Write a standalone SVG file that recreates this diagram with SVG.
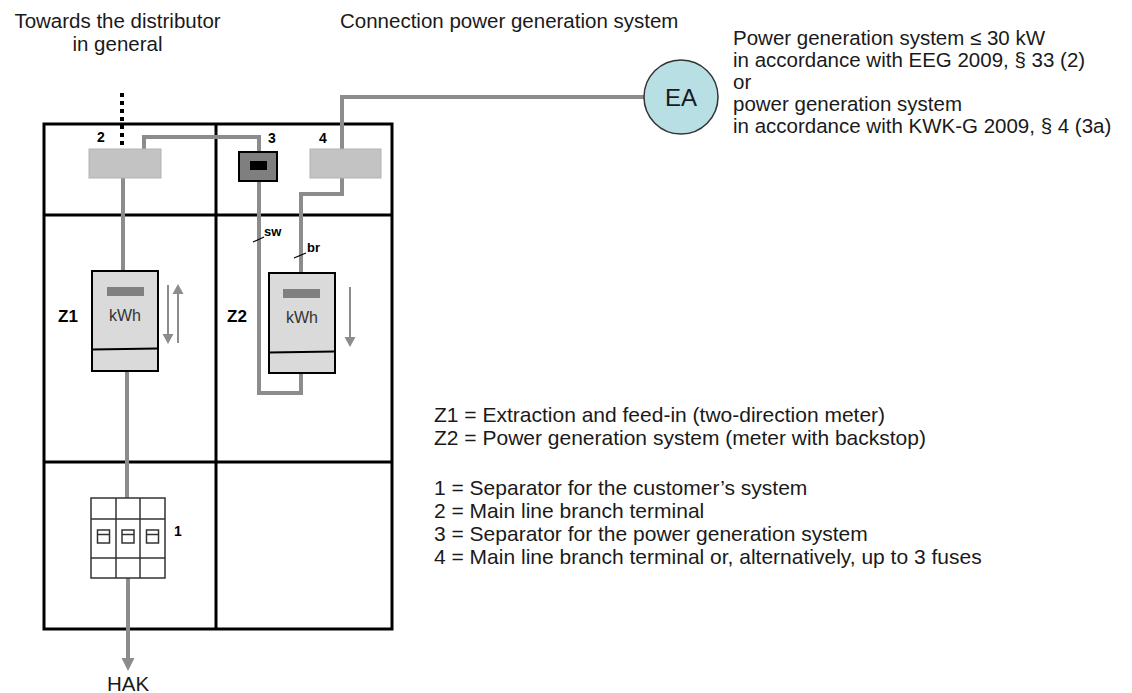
<svg xmlns="http://www.w3.org/2000/svg" width="1132" height="693" viewBox="0 0 1132 693">
<defs>
<style>
.t{font-family:"Liberation Sans",Arial,sans-serif;font-size:20.5px;fill:#1a1a1a}
.lg{font-family:"Liberation Sans",Arial,sans-serif;font-size:21px;fill:#1a1a1a}
.b{font-family:"Liberation Sans",Arial,sans-serif;font-weight:bold;fill:#000}
.frame{stroke:#000;stroke-width:3;fill:none}
.wire{stroke:#8c8c8c;stroke-width:4;fill:none}
.meter{fill:#dadada;stroke:#000;stroke-width:2}
.term{fill:#c3c3c3;stroke:#b3b3b3;stroke-width:1}
.arr{stroke:#8c8c8c;stroke-width:2;fill:none;marker-end:url(#ah)}
.fuse{fill:#fff;stroke:#333;stroke-width:1.5}
.tick{stroke:#000;stroke-width:1.2}
</style>
<marker id="ah" markerUnits="userSpaceOnUse" markerWidth="11" markerHeight="12" refX="0" refY="6" orient="auto"><path d="M0,0.5 L10,6 L0,11.5 Z" fill="#8c8c8c"/></marker>
<marker id="ahb" markerUnits="userSpaceOnUse" markerWidth="14" markerHeight="14" refX="0" refY="7" orient="auto"><path d="M0,0.5 L13,7 L0,13.5 Z" fill="#8c8c8c"/></marker>
</defs>
<rect width="1132" height="693" fill="#fff"/>

<g id="frame" class="frame">
<rect x="44" y="124" width="348" height="505"/>
<line x1="216" y1="124" x2="216" y2="629"/>
<line x1="44" y1="215" x2="392" y2="215"/>
<line x1="44" y1="462" x2="392" y2="462"/>
</g>

<g id="connectors">
<line x1="122" y1="93" x2="122" y2="148" stroke="#000" stroke-width="4" stroke-dasharray="4 4"/>
<path class="wire" d="M144,149 V137 H259 V152"/>
<path class="wire" d="M123,178 V271"/>
<path class="wire" d="M127,371 V498"/>
<path class="wire" d="M128,578 V658" marker-end="url(#ahb)"/>
<path class="wire" d="M644,97 H342 V149"/>
<path class="wire" d="M342,178 V194 H301 V273"/>
<path class="wire" d="M259,181 V393 H301 V373"/>
</g>

<g id="term2">
<rect class="term" x="89" y="149" width="72" height="29"/>
<text class="b" x="101" y="142" font-size="14" text-anchor="middle">2</text>
</g>
<g id="term3">
<rect x="239" y="152" width="38" height="29" fill="#7f7f7f" stroke="#000" stroke-width="2"/>
<rect x="250" y="161" width="17" height="9" fill="#000"/>
<text class="b" x="272" y="143" font-size="14" text-anchor="middle">3</text>
</g>
<g id="term4">
<rect class="term" x="310" y="149" width="71" height="29"/>
<text class="b" x="323" y="143" font-size="14" text-anchor="middle">4</text>
</g>

<g id="meterZ1">
<rect class="meter" x="92" y="271" width="66" height="100"/>
<line x1="92" y1="349.5" x2="158" y2="348.5" stroke="#000" stroke-width="2"/>
<rect x="107" y="287" width="37" height="9" fill="#808080"/>
<text x="125" y="321" font-family="Liberation Sans, Arial, sans-serif" font-size="16" fill="#333" text-anchor="middle">kWh</text>
<line class="arr" x1="168" y1="285" x2="168" y2="334"/>
<line class="arr" x1="178" y1="343" x2="178" y2="294"/>
<text class="b" x="68" y="322" font-size="17" text-anchor="middle">Z1</text>
</g>

<g id="meterZ2">
<rect class="meter" x="269" y="273" width="66" height="100"/>
<line x1="269" y1="352.5" x2="335" y2="351.5" stroke="#000" stroke-width="2"/>
<rect x="283" y="289" width="37" height="9" fill="#808080"/>
<text x="302" y="323" font-family="Liberation Sans, Arial, sans-serif" font-size="16" fill="#333" text-anchor="middle">kWh</text>
<line class="arr" x1="350" y1="287" x2="350" y2="337"/>
<text class="b" x="237" y="322" font-size="17" text-anchor="middle">Z2</text>
<line class="tick" x1="253" y1="242" x2="264" y2="237"/>
<text class="b" x="264" y="236" font-size="13">sw</text>
<line class="tick" x1="294" y1="258" x2="306" y2="253"/>
<text class="b" x="307" y="252" font-size="13">br</text>
</g>

<g id="fuse1">
<rect class="fuse" x="91" y="498" width="74" height="80"/>
<line class="fuse" x1="116" y1="498" x2="116" y2="578"/>
<line class="fuse" x1="140" y1="498" x2="140" y2="578"/>
<line class="fuse" x1="91" y1="519" x2="165" y2="519"/>
<line class="fuse" x1="91" y1="558" x2="165" y2="558"/>
<rect class="fuse" x="97.5" y="530" width="12" height="13"/>
<line class="fuse" x1="97.5" y1="534.5" x2="109.5" y2="534.5"/>
<rect class="fuse" x="122" y="530" width="12" height="13"/>
<line class="fuse" x1="122" y1="534.5" x2="134" y2="534.5"/>
<rect class="fuse" x="146.5" y="530" width="12" height="13"/>
<line class="fuse" x1="146.5" y1="534.5" x2="158.5" y2="534.5"/>
<text class="b" x="178" y="536" font-size="14" text-anchor="middle">1</text>
</g>

<g id="EA">
<circle cx="681" cy="97" r="37" fill="#b8dfe4" stroke="#333" stroke-width="1.5"/>
<text x="681" y="106" font-family="Liberation Sans, Arial, sans-serif" font-size="24" fill="#1a1a1a" text-anchor="middle">EA</text>
</g>

<g id="HAK">
<text class="t" x="128" y="691" text-anchor="middle">HAK</text>
</g>

<g id="labels">
<text class="t" x="117.5" y="28" text-anchor="middle">Towards the distributor</text>
<text class="t" x="117.5" y="51" text-anchor="middle">in general</text>
<text class="t" x="340" y="28">Connection power generation system</text>
<text class="t" x="733" y="45">Power generation system ≤ 30 kW</text>
<text class="t" x="733" y="67">in accordance with EEG 2009, § 33 (2)</text>
<text class="t" x="733" y="89">or</text>
<text class="t" x="733" y="111">power generation system</text>
<text class="t" x="733" y="133">in accordance with KWK-G 2009, § 4 (3a)</text>
</g>

<g id="legend">
<text class="lg" x="434" y="422">Z1 = Extraction and feed-in (two-direction meter)</text>
<text class="lg" x="434" y="445">Z2 = Power generation system (meter with backstop)</text>
<text class="lg" x="434" y="495">1 = Separator for the customer’s system</text>
<text class="lg" x="434" y="518">2 = Main line branch terminal</text>
<text class="lg" x="434" y="541">3 = Separator for the power generation system</text>
<text class="lg" x="434" y="564">4 = Main line branch terminal or, alternatively, up to 3 fuses</text>
</g>
</svg>
